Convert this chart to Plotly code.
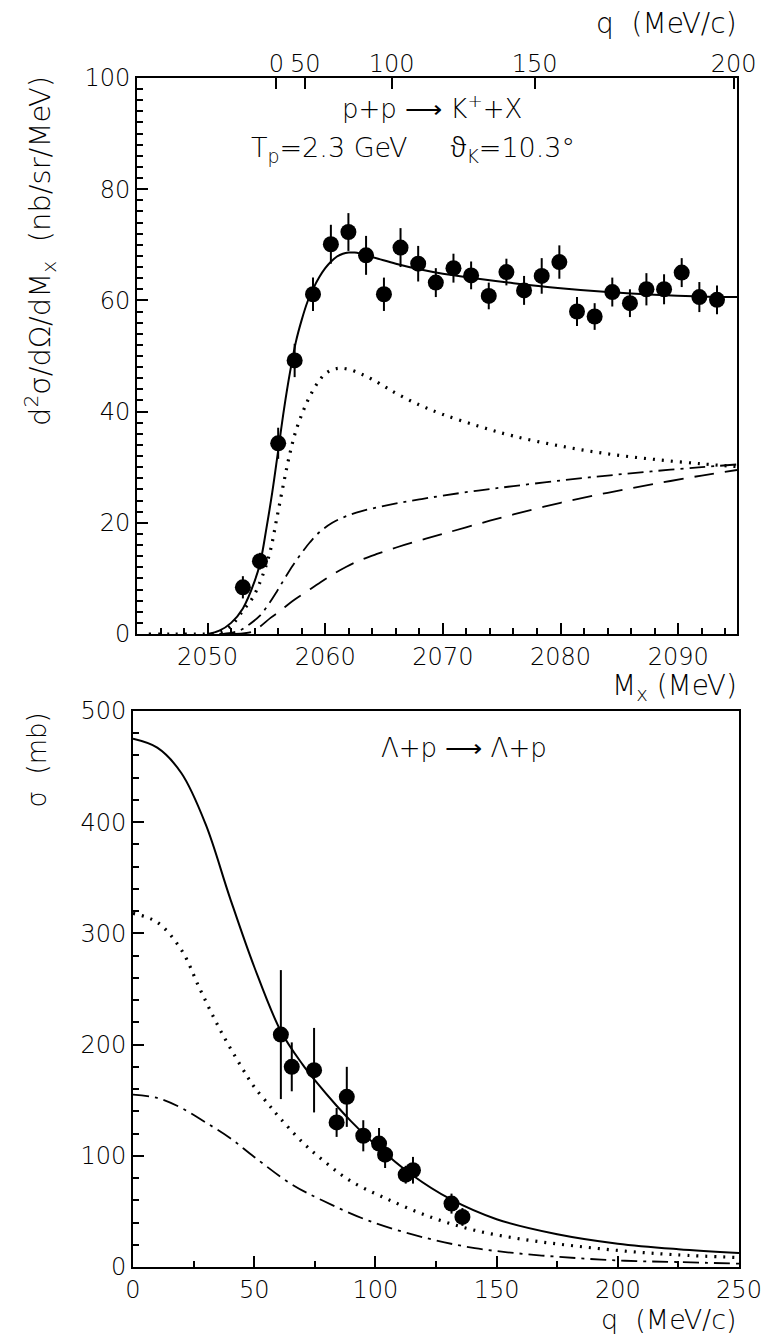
import numpy as np
import plotly.graph_objects as go

# ---------------- top panel: p+p -> K+ + X ----------------
mx_pts = [2053.0, 2054.45, 2056.0, 2057.4, 2058.96, 2060.48, 2061.97, 2063.47, 2064.99,
          2066.4, 2067.9, 2069.4, 2070.9, 2072.4, 2073.9, 2075.4, 2076.9, 2078.4,
          2079.9, 2081.4, 2082.9, 2084.4, 2085.9, 2087.3, 2088.8, 2090.3, 2091.8, 2093.3]
xs_pts = [8.4, 13.1, 34.3, 49.2, 61.1, 70.1, 72.3, 68.1, 61.1,
          69.5, 66.6, 63.2, 65.8, 64.5, 60.8, 65.1, 61.8, 64.4,
          66.9, 58.0, 57.1, 61.5, 59.5, 62.0, 62.0, 65.0, 60.6, 60.1]
xs_err = [2.0, 1.5, 2.8, 3.0, 3.0, 3.5, 3.4, 3.5, 3.0,
          3.5, 3.2, 2.6, 2.6, 2.5, 2.4, 2.4, 2.6, 3.2,
          3.0, 2.6, 2.4, 2.6, 2.5, 2.9, 2.7, 2.6, 2.7, 2.6]

solid_top_m = [2050.0, 2051.0, 2052.0, 2053.0, 2054.0, 2054.5, 2055.0, 2055.5, 2056.0, 2056.5,
               2057.0, 2057.5, 2058.0, 2058.5, 2059.0, 2059.5, 2060.0, 2060.5, 2061.0, 2061.5,
               2062.0, 2062.5, 2063.0, 2063.5, 2064.5, 2066.0, 2068.0, 2070.0, 2073.0, 2076.0,
               2080.0, 2084.0, 2088.0, 2092.0, 2095.0]
solid_top_v = [0.0, 0.6, 2.0, 4.6, 9.5, 13.1, 19.0, 25.5, 33.0, 40.5,
               47.0, 52.5, 56.5, 59.8, 62.2, 64.2, 65.8, 67.0, 67.9, 68.4,
               68.6, 68.6, 68.4, 68.1, 67.5, 66.6, 65.6, 64.8, 63.9, 63.1,
               62.2, 61.5, 61.0, 60.7, 60.6]

dot_top_m = [2045.0, 2047.0, 2049.0, 2050.0, 2051.0, 2052.0, 2053.0, 2053.8, 2054.6, 2055.3,
             2055.9, 2056.5, 2057.0, 2057.5, 2058.2, 2058.8, 2059.4, 2060.0, 2060.7, 2061.3,
             2062.0, 2063.0, 2064.0, 2065.2, 2066.1, 2068.0, 2070.0, 2073.0, 2076.0, 2080.0,
             2084.0, 2088.0, 2092.0, 2095.0]
dot_top_v = [0.0, 0.0, 0.0, 0.0, 0.3, 1.5, 4.2, 6.4, 10.1, 14.7,
             21.0, 27.5, 32.5, 36.5, 40.5, 43.2, 45.3, 46.8, 47.6, 47.8,
             47.6, 46.8, 45.8, 44.3, 43.2, 41.2, 39.5, 37.4, 35.6, 33.8,
             32.4, 31.4, 30.6, 30.1]

dd_top_m = [2051.0, 2052.0, 2052.8, 2053.6, 2054.45, 2055.2, 2055.9, 2056.5, 2057.2, 2058.0,
            2058.7, 2059.5, 2060.6, 2061.8, 2063.1, 2064.7, 2066.3, 2068.0, 2070.0, 2073.0,
            2076.0, 2080.0, 2084.0, 2088.0, 2092.0, 2095.0]
dd_top_v = [0.0, 0.2, 0.7, 1.8, 3.3, 5.4, 7.7, 9.8, 12.2, 14.6,
            16.5, 18.3, 20.0, 21.2, 22.1, 22.9, 23.6, 24.2, 24.9, 25.8,
            26.6, 27.6, 28.5, 29.3, 30.0, 30.5]

da_top_m = [2052.0, 2053.0, 2053.8, 2054.5, 2055.35, 2056.2, 2057.2, 2058.4, 2059.6, 2060.7,
            2061.8, 2063.0, 2064.4, 2066.1, 2068.0, 2070.0, 2073.0, 2076.0, 2080.0, 2084.0,
            2088.0, 2092.0, 2095.0]
da_top_v = [0.0, 0.1, 0.4, 1.4, 2.9, 4.2, 5.9, 7.6, 9.3, 10.8,
            12.1, 13.3, 14.4, 15.6, 16.8, 18.0, 19.8, 21.5, 23.6, 25.4,
            27.0, 28.5, 29.5]

q_top_ticks = [0, 50, 100, 150, 200]

# ---------------- bottom panel: Lambda + p -> Lambda + p ----------------
q_pts = [61.0, 65.5, 74.7, 84.0, 88.2, 95.0, 101.5, 104.0, 112.5, 115.5, 131.4, 135.9]
sig_pts = [209, 180, 177, 130, 153, 118, 111, 101, 83, 87, 57, 45]
sig_err = [58, 22, 38, 13, 27, 14, 14, 12, 8, 12, 9, 8]

solid_bot_q = [0, 10, 20, 30, 40, 50, 61, 70, 75, 84, 90, 100, 115, 131, 150, 175, 200, 225, 250]
solid_bot_s = [475, 467, 444, 398, 332, 270, 212, 182, 168, 145, 131, 110, 83, 61, 43, 29.5, 21, 16, 12.5]

dot_bot_q = [0, 10, 20, 27.6, 36, 45, 50, 56, 59, 70, 80, 90, 104, 122, 141, 162, 182, 203, 224, 250]
dot_bot_s = [318, 310, 285, 250, 213, 179, 162, 146, 138, 112, 93, 77, 62, 45.5, 33, 24.5, 19, 14.3, 11, 8.5]

dd_bot_q = [0, 10, 20, 30, 40, 50, 65, 78, 98, 121, 141, 162, 183, 203, 224, 250]
dd_bot_s = [155, 152, 143, 130, 116, 99, 75, 60, 41, 26, 17, 11.6, 8, 5.6, 4.5, 3]

# ---------------- figure ----------------
W, H = 781, 1340
ML, MR, MT, MB = 133, 42, 78, 73
PW, PH = W - ML - MR, H - MT - MB


def px(x):
    return (x - ML) / PW


def py(y):
    return (H - MB - y) / PH


FONT = "DejaVu Sans"
FW = 300
FS = 24
BLACK = "black"
NB = "\u00a0"

fig = go.Figure()

DOT = dict(color=BLACK, width=3.2, dash="2px,7px", shape="spline")
DDOT = dict(color=BLACK, width=1.8, dash="16px,6px,3px,6px", shape="spline")
DASH = dict(color=BLACK, width=1.8, dash="20px,11px", shape="spline")
SOLID = dict(color=BLACK, width=2, shape="spline")

# top curves
fig.add_trace(go.Scatter(x=dot_top_m, y=dot_top_v, mode="lines", line=DOT, xaxis="x", yaxis="y"))
fig.add_trace(go.Scatter(x=dd_top_m, y=dd_top_v, mode="lines", line=DDOT, xaxis="x", yaxis="y"))
fig.add_trace(go.Scatter(x=da_top_m, y=da_top_v, mode="lines", line=DASH, xaxis="x", yaxis="y"))
fig.add_trace(go.Scatter(x=solid_top_m, y=solid_top_v, mode="lines", line=SOLID, xaxis="x", yaxis="y"))
fig.add_trace(go.Scatter(x=mx_pts, y=xs_pts, mode="markers",
                         marker=dict(color=BLACK, size=16, symbol="circle"),
                         error_y=dict(type="data", array=xs_err, color=BLACK, thickness=2, width=0),
                         xaxis="x", yaxis="y"))

# top q axis (kinematic conversion q -> M_x)
mL, mP, shift = 1115.68, 938.27, 1.9
q_arr = np.array(q_top_ticks, dtype=float)
m_of_q = np.sqrt(mL**2 + q_arr**2) + np.sqrt(mP**2 + q_arr**2) + shift
fig.add_trace(go.Scatter(x=[m_of_q[0]], y=[0], mode="markers", marker=dict(opacity=0),
                         xaxis="x3", yaxis="y", hoverinfo="skip"))

# bottom curves
fig.add_trace(go.Scatter(x=dot_bot_q, y=dot_bot_s, mode="lines", line=DOT, xaxis="x2", yaxis="y2"))
fig.add_trace(go.Scatter(x=dd_bot_q, y=dd_bot_s, mode="lines", line=DDOT, xaxis="x2", yaxis="y2"))
fig.add_trace(go.Scatter(x=solid_bot_q, y=solid_bot_s, mode="lines", line=SOLID, xaxis="x2", yaxis="y2"))
fig.add_trace(go.Scatter(x=q_pts, y=sig_pts, mode="markers",
                         marker=dict(color=BLACK, size=16, symbol="circle"),
                         error_y=dict(type="data", array=sig_err, color=BLACK, thickness=2, width=0),
                         xaxis="x2", yaxis="y2"))

tickfont = dict(family=FONT, size=FS, color=BLACK, weight=FW)
axis_common = dict(showline=True, linecolor=BLACK, linewidth=2, mirror=True,
                   ticks="inside", tickcolor=BLACK, tickwidth=1.5, ticklen=11,
                   showgrid=False, zeroline=False, tickfont=tickfont)
minor = dict(ticks="inside", ticklen=6, tickcolor=BLACK, tickwidth=1.5)

fig.update_layout(
    width=W, height=H,
    margin=dict(l=ML, r=MR, t=MT, b=MB),
    paper_bgcolor="white", plot_bgcolor="white",
    showlegend=False,
    font=dict(family=FONT, size=FS, color=BLACK, weight=FW),
    xaxis=dict(domain=[px(137), px(737)], anchor="y", range=[2044, 2095],
               tickvals=[2050, 2060, 2070, 2080, 2090],
               minor=dict(dtick=2, tick0=2044, **minor), **axis_common),
    yaxis=dict(domain=[py(634), py(78)], anchor="x", range=[0, 100], dtick=20,
               minor=dict(dtick=2, **minor), **axis_common),
    xaxis3=dict(overlaying="x", side="top", anchor="y", range=[2044, 2095],
                tickvals=list(m_of_q), ticktext=[str(v) for v in q_top_ticks],
                ticks="inside", ticklen=11, tickwidth=1.5, tickcolor=BLACK,
                showline=False, showgrid=False, zeroline=False, tickfont=tickfont),
    xaxis2=dict(domain=[0, 1], anchor="y2", range=[0, 250], dtick=50,
                minor=dict(dtick=25, **minor), **axis_common),
    yaxis2=dict(domain=[0, py(711)], anchor="x2", range=[0, 500], dtick=100,
                minor=dict(dtick=20, **minor), **axis_common),
)

theta = '<span style="font-family:\'Noto Sans\';font-weight:300;fill:#000000;color:#000000">ϑ</span>'
anns = [
    dict(text="q" + NB * 2 + "(MeV/c)", x=px(739), y=py(24), xanchor="right", yanchor="middle", size=28),
    dict(text="M<sub>x</sub> (MeV)", x=px(739), y=py(687), xanchor="right", yanchor="middle", size=28),
    dict(text="d<sup>2</sup>σ/dΩ/dM<sub>x</sub>" + NB * 2 + "(nb/sr/MeV)", x=px(40), y=py(74),
         xanchor="center", yanchor="top", textangle=-90, size=29),
    dict(text="p+p" + NB + "⟶" + NB + "K<sup>+</sup>+X", x=px(432), y=py(107), xanchor="center", yanchor="middle", size=26),
    dict(text="T<sub>p</sub>=2.3 GeV" + NB * 5 + theta + "<sub>K</sub>=10.3°", x=px(413), y=py(147),
         xanchor="center", yanchor="middle", size=27),
    dict(text="Λ+p" + NB + "⟶" + NB + "Λ+p", x=px(464), y=py(748), xanchor="center", yanchor="middle", size=26),
    dict(text="σ" + NB * 2 + "(mb)", x=px(36), y=py(711), xanchor="center", yanchor="top", textangle=-90, size=26),
    dict(text="q" + NB * 2 + "(MeV/c)", x=px(739), y=py(1320), xanchor="right", yanchor="middle", size=27),
]
for a in anns:
    s = a.pop("size")
    fig.add_annotation(xref="paper", yref="paper", showarrow=False,
                       font=dict(family=FONT, size=s, color=BLACK, weight=FW), **a)

fig.write_html("out.html", config={"displayModeBar": False},
               post_script="document.body.style.margin='0';document.body.style.overflow='hidden';")
